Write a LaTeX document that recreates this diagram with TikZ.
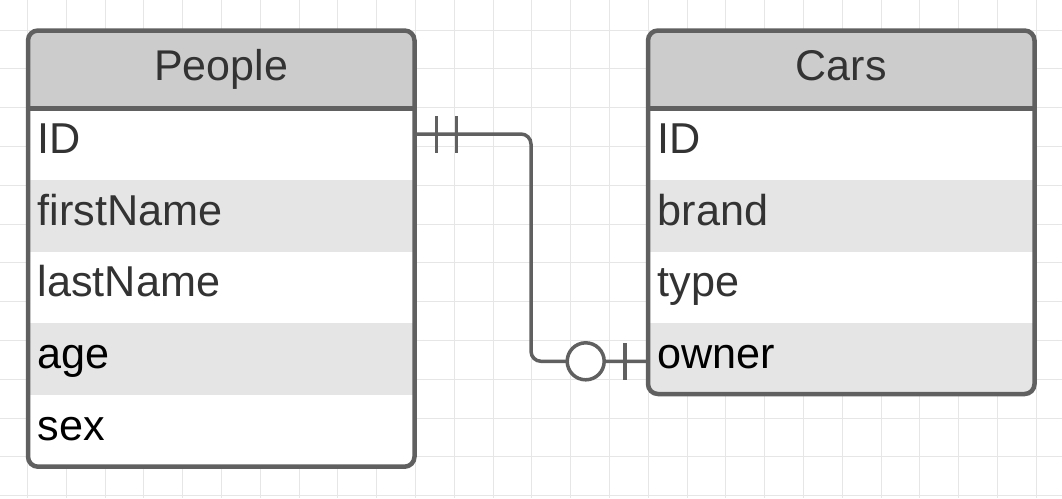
\documentclass[tikz,border=0pt]{standalone}
\usepackage{fontspec}
\setmainfont{Liberation Sans}
\definecolor{bordercol}{HTML}{606060}
\definecolor{headfill}{HTML}{CCCCCC}
\definecolor{altfill}{HTML}{E5E5E5}
\definecolor{gridcol}{HTML}{E6E6E6}
\definecolor{greytext}{HTML}{333333}
\tikzset{
  gridline/.style={draw=gridcol, line width=1pt},
  tableborder/.style={draw=bordercol, line width=4.5pt},
  conn/.style={draw=bordercol, line width=3.5pt},
  headtext/.style={inner sep=0pt, anchor=base, font=\fontsize{43}{50}\selectfont, text=greytext},
  rowtext/.style={inner sep=0pt, anchor=base west, font=\fontsize{43.2}{50}\selectfont, text=greytext},
  rowtextb/.style={rowtext, text=black},
}
\begin{document}
\begin{tikzpicture}[x=1pt,y=-1pt]
\useasboundingbox[fill=white] (0,0) rectangle (1062,498);
% grid
\foreach \i in {0,...,26} \draw[gridline] (27.5+38.8*\i,0) -- (27.5+38.8*\i,498);
\foreach \j in {0,...,12} \draw[gridline] (0,30+38.8*\j) -- (1062,30+38.8*\j);

% ---------- People table ----------
\fill[white, rounded corners=10pt] (28,30.5) rectangle (414.5,466.7);
\fill[headfill, rounded corners=10pt] (28,30.5) rectangle (414.5,130);
\fill[white] (28,108.5) rectangle (414.5,180);
\fill[altfill] (28,180) rectangle (414.5,251.8);
\fill[white] (28,251.8) rectangle (414.5,323.3);
\fill[altfill] (28,323.3) rectangle (414.5,395);
\draw[tableborder] (28,108.5) -- (414.5,108.5);
\draw[tableborder, rounded corners=10pt] (28,30.5) rectangle (414.5,466.7);
\node[headtext] (phead) at (221.25,80) {People};
\node[rowtext] (p1) at (37.5,153.5) {ID};
\node[rowtext] (p2) at (37.5,225.1) {firstName};
\node[rowtext] (p3) at (37.5,296.8) {lastName};
\node[rowtextb] (p4) at (37.5,368.4) {age};
\node[rowtextb] (p5) at (37.5,440) {sex};

% ---------- Cars table ----------
\fill[altfill, rounded corners=10pt] (648,30.5) rectangle (1034.5,394);
\fill[headfill, rounded corners=10pt] (648,30.5) rectangle (1034.5,130);
\fill[white] (648,108.5) rectangle (1034.5,180);
\fill[altfill] (648,180) rectangle (1034.5,251.8);
\fill[white] (648,251.8) rectangle (1034.5,323.3);
\draw[tableborder] (648,108.5) -- (1034.5,108.5);
\draw[tableborder, rounded corners=10pt] (648,30.5) rectangle (1034.5,394);
\node[headtext] (chead) at (841.25,80) {Cars};
\node[rowtext] (c1) at (657.5,153.5) {ID};
\node[rowtext] (c2) at (657.5,225.1) {brand};
\node[rowtext] (c3) at (657.5,296.8) {type};
\node[rowtextb] (c4) at (657.5,368.4) {owner};

% ---------- relationship ----------
\coordinate (pID) at (416,134);
\coordinate (cOwner) at (646,361.3);
\draw[conn, rounded corners=10pt] (pID) -- (531,134) |- (cOwner);
\draw[conn] (436.7,116) -- (436.7,153);
\draw[conn] (456.7,116) -- (456.7,153);
\draw[conn] (625,343) -- (625,380);
\node[circle, draw=bordercol, line width=3.5pt, fill=white, minimum size=37pt, inner sep=0pt] (opt) at (585.7,361.3) {};
\end{tikzpicture}
\end{document}
